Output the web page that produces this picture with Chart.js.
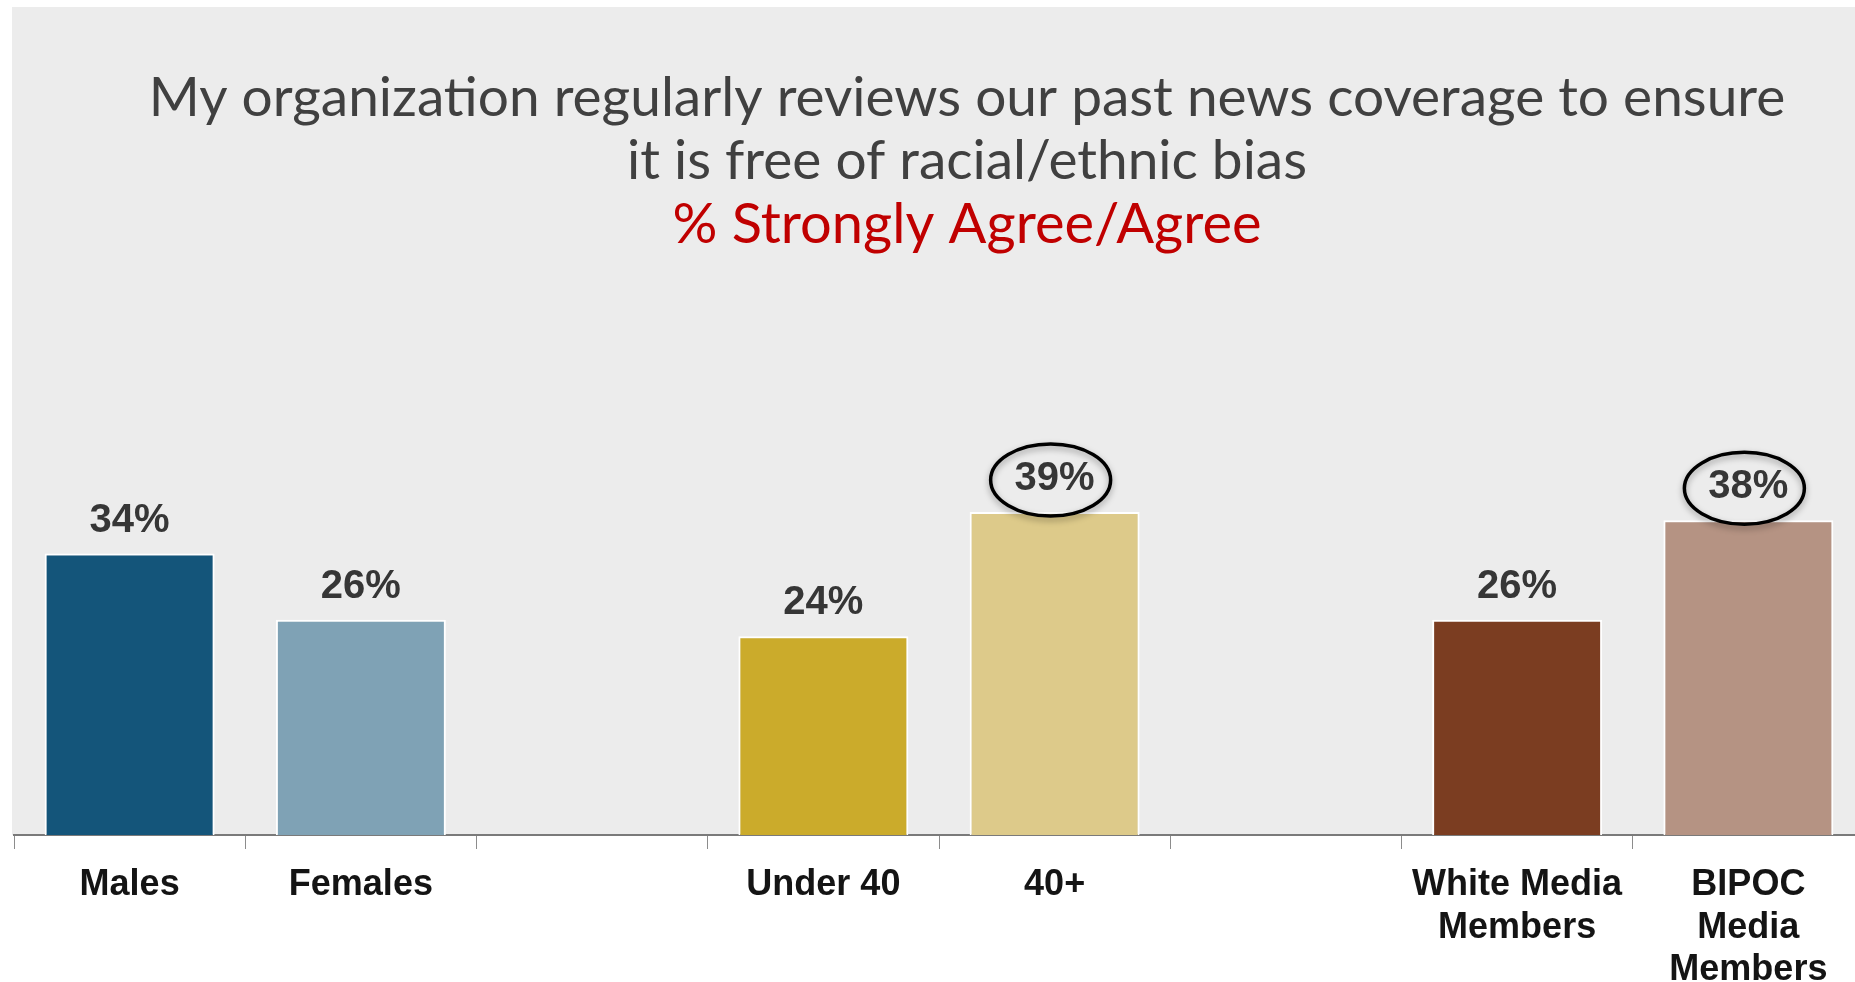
<!DOCTYPE html>
<html>
<head>
<meta charset="utf-8">
<script src="https://cdn.jsdelivr.net/npm/chart.js@4.4.1/dist/chart.umd.min.js"></script>
<style>
  html, body { margin: 0; padding: 0; background: #fff; overflow: hidden; }
  #wrap { width: 1855px; height: 982px; overflow: hidden; position: relative; }
  canvas { display: block; }
</style>
</head>
<body>
<div id="wrap"><canvas id="reviewChart" width="1864" height="982"></canvas></div>
<script>
const titleLines = [
  "My organization regularly reviews our past news coverage to ensure",
  "it is free of racial/ethnic bias",
];
const subtitle = "% Strongly Agree/Agree";

const categories = [
  "Males",
  "Females",
  "",
  "Under 40",
  "40+",
  "",
  ["White Media", "Members"],
  ["BIPOC", "Media", "Members"],
];
const values = [34, 26, null, 24, 39, null, 26, 38];
const barColors = [
  "#14557a",
  "#7fa2b5",
  "#ececec",
  "#cbab2b",
  "#ddca8a",
  "#ececec",
  "#7b3d21",
  "#b59383",
];
const circled = [false, false, false, false, true, false, false, true];

// gray panel behind the plot + title text drawn inside it
const panelPlugin = {
  id: "panel",
  beforeDraw(chart) {
    const { ctx, chartArea } = chart;
    ctx.save();
    ctx.fillStyle = "#ececec";
    ctx.fillRect(chartArea.left - 2, chartArea.top, chart.width, chartArea.bottom - chartArea.top);
    ctx.textAlign = "center";
    ctx.textBaseline = "alphabetic";
    ctx.font = "55px Lato";
    ctx.fillStyle = "#404040";
    ctx.fillText(titleLines[0], 967, 116);
    ctx.fillText(titleLines[1], 967, 179);
    ctx.fillStyle = "#c00000";
    ctx.font = "56px Lato";
    ctx.fillText(subtitle, 967, 243);
    ctx.restore();
  },
};

// value labels above bars, with ellipses on the highlighted ones
const valueLabels = {
  id: "valueLabels",
  afterDatasetsDraw(chart) {
    const { ctx } = chart;
    const meta = chart.getDatasetMeta(0);
    ctx.save();
    meta.data.forEach((bar, i) => {
      const v = values[i];
      if (v === null) return;
      const cy = bar.y - 35;
      ctx.font = "bold 40px 'Liberation Sans', Arial, sans-serif";
      ctx.fillStyle = "#363636";
      ctx.textAlign = "center";
      ctx.textBaseline = "middle";
      ctx.fillText(v + "%", bar.x, cy + 2);
      if (circled[i]) {
        ctx.save();
        ctx.shadowColor = "rgba(0,0,0,0.35)";
        ctx.shadowBlur = 6;
        ctx.shadowOffsetY = 3;
        ctx.strokeStyle = "#000";
        ctx.lineWidth = 3.5;
        ctx.beginPath();
        ctx.ellipse(bar.x - 4, cy + 3, 60, 36, 0, 0, Math.PI * 2);
        ctx.stroke();
        ctx.restore();
      }
    });
    ctx.restore();
  },
};

const ctx = document.getElementById("reviewChart").getContext("2d");
const reviewChart = new Chart(ctx, {
  type: "bar",
  data: {
    labels: categories,
    datasets: [
      {
        data: values,
        backgroundColor: barColors,
        borderColor: "#ffffff",
        borderWidth: 2,
        categoryPercentage: 1,
        barPercentage: 0.735,
      },
    ],
  },
  options: {
    responsive: false,
    animation: false,
    layout: {
      padding: { left: 14, top: 7, right: 0, bottom: 0 },
    },
    plugins: {
      legend: { display: false },
      title: { display: false },
      tooltip: { enabled: false },
    },
    scales: {
      x: {
        grid: {
          offset: true,
          drawOnChartArea: false,
          drawTicks: true,
          tickLength: 14,
          color: "#8c8c8c",
        },
        border: { color: "#7a7a7a", width: 2 },
        ticks: {
          color: "#141414",
          padding: 15,
          maxRotation: 0,
          autoSkip: false,
          font: {
            family: "'Liberation Sans', Arial, sans-serif",
            size: 36,
            weight: "bold",
            lineHeight: 1.18,
          },
        },
        afterFit(scale) {
          scale.height = 147;
        },
      },
      y: {
        display: false,
        min: 0,
        max: 100,
      },
    },
  },
  plugins: [panelPlugin, valueLabels],
});
</script>
</body>
</html>
